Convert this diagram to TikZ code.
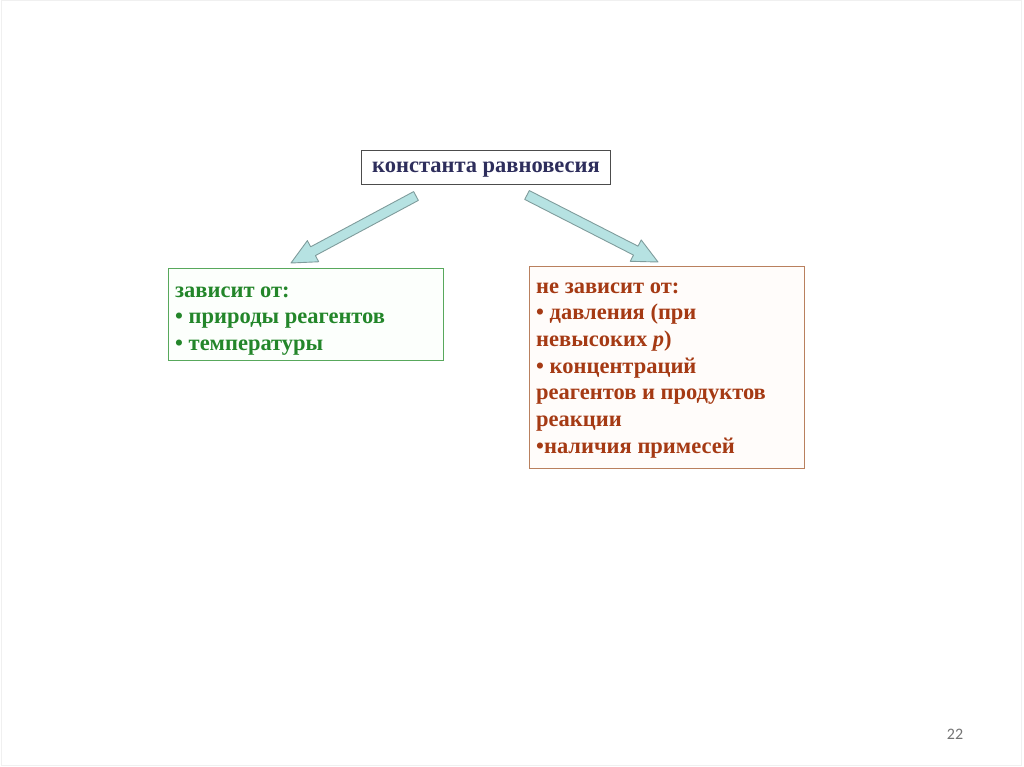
\documentclass[tikz,border=0pt]{standalone}
\usepackage{fontspec}
\setmainfont{Liberation Serif}
\newfontfamily\numfont{Carlito}
\usetikzlibrary{calc}
\definecolor{navytxt}{HTML}{2E2E5C}
\definecolor{greentxt}{HTML}{23862A}
\definecolor{greenbd}{HTML}{58A85C}
\definecolor{rusttxt}{HTML}{A53A14}
\definecolor{rustbd}{HTML}{B9805E}
\definecolor{arrfill}{HTML}{B6E2E2}
\definecolor{arrline}{HTML}{7F9C9C}
\tikzset{
  frame/.style={draw, line width=1.2pt, anchor=north west, inner sep=0pt},
  txt/.style={anchor=north west, inner sep=0pt, align=left,
    font=\fontsize{22.5}{26.7}\selectfont\bfseries},
  barrow/.style={draw=arrline, fill=arrfill, line width=0.9pt, line join=round},
}
\newcommand\blockarr[2]{%
  \coordinate (hh) at ($(#2)!25pt!(#1)$);
  \draw[barrow] ($(#1)!5pt!90:(#2)$) -- ($(hh)!5pt!90:(#2)$) -- ($(hh)!12pt!90:(#2)$)
    -- (#2) -- ($(hh)!12pt!-90:(#2)$) -- ($(hh)!5pt!-90:(#2)$) -- ($(#1)!5pt!-90:(#2)$) -- cycle;
}
\begin{document}
\begin{tikzpicture}[x=1pt,y=-1pt]
\useasboundingbox (0,0) rectangle (1024,767);
\draw[black!6, line width=1pt] (1,1) rectangle (1021,765);
% top box
\node[frame, draw=black!70, fill=white, minimum width=249pt, minimum height=34pt] (top) at (361,150) {};
\node[anchor=base, inner sep=0pt, text=navytxt, font=\fontsize{22.5}{26.7}\selectfont\bfseries] (toptxt) at (486,173) {константа равновесия};
% left box
\node[frame, draw=greenbd, fill=green!1, minimum width=275pt, minimum height=92pt] (dep) at (168,268) {};
\node[txt, text=greentxt] (deptxt) at (175,278.3) {\strut зависит от:\\• природы реагентов\\• температуры};
% right box
\node[frame, draw=rustbd, fill=orange!2, minimum width=275pt, minimum height=202pt] (indep) at (529,266) {};
\node[txt, text=rusttxt] (indeptxt) at (536,274.3) {\strut не зависит от:\\• давления (при\\невысоких \textit{p})\\• концентраций\\реагентов и продуктов\\реакции\\•наличия примесей};
% arrows
\coordinate (a1) at (416,196);
\coordinate (b1) at (291,263);
\coordinate (a2) at (527,195);
\coordinate (b2) at (658,262);
\blockarr{a1}{b1}
\blockarr{a2}{b2}
\node[font=\numfont\fontsize{16}{18}\selectfont, text=black!55] (pg) at (955,734) {22};
\end{tikzpicture}
\end{document}
